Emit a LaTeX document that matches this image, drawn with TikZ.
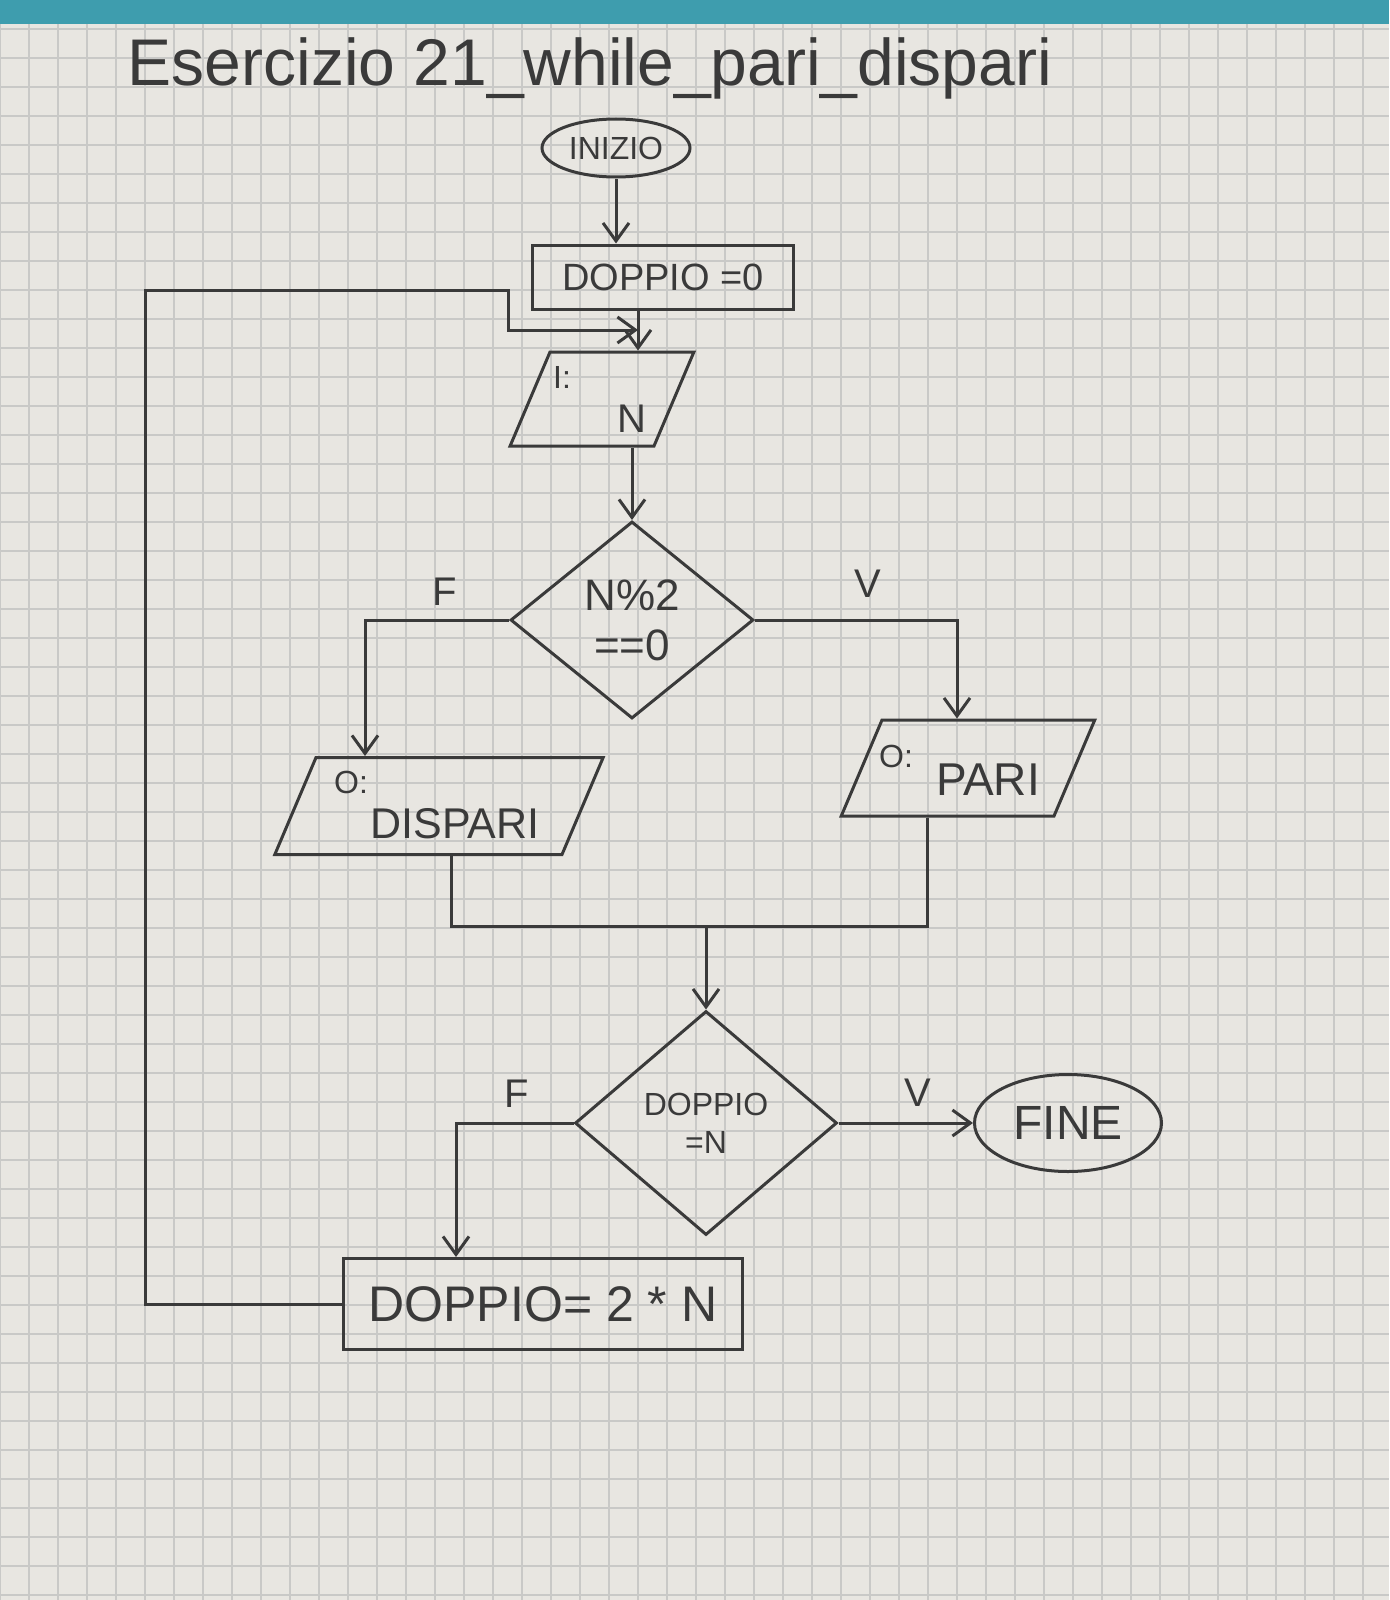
\documentclass[tikz,border=0pt]{standalone}
\usepackage{fontspec}
\setmainfont{Liberation Sans}
\usetikzlibrary{shapes.geometric,arrows.meta,calc}
\definecolor{paper}{HTML}{E8E6E1}
\definecolor{gridc}{HTML}{C9C9C7}
\definecolor{ink}{HTML}{3A3A3A}
\definecolor{tealstrip}{HTML}{3E9DAE}
\newcommand{\pbox}[2]{\phantom{\rule{#1}{#2}}}
\begin{document}
\begin{tikzpicture}[x=1pt,y=-1pt,
  shp/.style={draw=ink,line width=3pt,text=ink,inner sep=0pt},
  term/.style={shp,ellipse},
  box/.style={shp,rectangle},
  para/.style={shp,inner sep=0pt,trapezium,trapezium left angle=67,trapezium right angle=113},
  dec/.style={shp,diamond,align=center},
  lab/.style={text=ink,inner sep=0pt,font=\fontsize{40}{44}\selectfont},
  small/.style={lab,font=\fontsize{32}{36}\selectfont},
  conn/.style={draw=ink,line width=3pt},
  arr/.style={conn,-{Straight Barb[length=18pt,width=26pt]}},
  gridline/.style={draw=gridc,line width=1.2pt}]
\useasboundingbox (0,0) rectangle (1389,1600);
% background: grid paper
\fill[paper] (0,0) rectangle (1389,1600);
\foreach \g in {0,29,...,1389} {\draw[gridline] (\g,0) -- (\g,1600);}
\foreach \g in {0,29,...,1600} {\draw[gridline] (0,\g) -- (1389,\g);}
\fill[tealstrip] (0,0) rectangle (1389,24);
% title
\node[lab,font=\fontsize{66}{70}\selectfont] (title) at (590,68) {Esercizio 21\_while\_pari\_dispari};
% nodes
\node[term,minimum width=148pt,minimum height=58pt,font=\fontsize{32}{36}\selectfont] (ini) at (616,148) {INIZIO};
\node[box,minimum width=261pt,minimum height=64pt,font=\fontsize{38}{42}\selectfont] (d0) at (663,277) {DOPPIO =0};
\node[para] (in) at (602,399) {\pbox{104pt}{94pt}};
\node[small] (inI) at ($(in.center)+(-40,-22)$) {I:};
\node[lab] (inN) at ($(in.center)+(30,20)$) {N};
\node[dec,minimum width=243pt,minimum height=197pt,font=\fontsize{44}{50}\selectfont] (d1) at (632,620) {N\%2\\==0};
\node[para] (dis) at (439,806) {\pbox{246pt}{97pt}};
\node[small] (disO) at ($(dis.center)+(-88,-24)$) {O:};
\node[lab,font=\fontsize{43}{47}\selectfont] (disT) at ($(dis.center)+(16,18)$) {DISPARI};
\node[para] (par) at (968,768) {\pbox{172pt}{96pt}};
\node[small] (parO) at ($(par.center)+(-72,-12)$) {O:};
\node[lab,font=\fontsize{46}{50}\selectfont] (parT) at ($(par.center)+(20,12)$) {PARI};
\node[dec,minimum width=262pt,minimum height=224pt,font=\fontsize{32}{38}\selectfont] (d2) at (706,1123) {DOPPIO\\=N};
\node[term,minimum width=187pt,minimum height=97pt,font=\fontsize{48}{52}\selectfont] (fine) at (1068,1123) {FINE};
\node[box,minimum width=399pt,minimum height=91pt,font=\fontsize{50}{54}\selectfont] (set) at (543,1304) {DOPPIO= 2 * N};
% helper coordinates
\coordinate (j) at (638,330);
\coordinate (lA) at (145,290);
\coordinate (lB) at (508,290);
\coordinate (fL) at (365,0);
\coordinate (vR) at (957,0);
\coordinate (mL) at (451,926);
\coordinate (mR) at (927,926);
\coordinate (m) at (706,926);
\coordinate (fL2) at (456,0);
% connectors
\draw[arr] (ini.south) -- (ini.south |- d0.north);
\draw[arr] (d0.south -| j) -- (in.north -| j);
\draw[arr] (set.west) -| (lA) -- (lB) |- (j);
\draw[arr] (d1.north |- in.south) -- (d1.north);
\draw[arr] (d1.west) -| (fL |- dis.north);
\draw[arr] (d1.east) -| (vR |- par.north);
\draw[conn] (mL |- dis.south) -- (mL) -- (mR) -- (mR |- par.south);
\draw[arr] (m) -- (d2.north);
\draw[arr] (d2.east) -- (fine.west);
\draw[arr] (d2.west) -| (fL2 |- set.north);
% branch labels
\node[lab] (f1) at (445,592) {F};
\node[lab] (v1) at (868,584) {V};
\node[lab] (v2) at (918,1093) {V};
\node[lab] (f2) at (517,1094) {F};
\end{tikzpicture}
\end{document}
